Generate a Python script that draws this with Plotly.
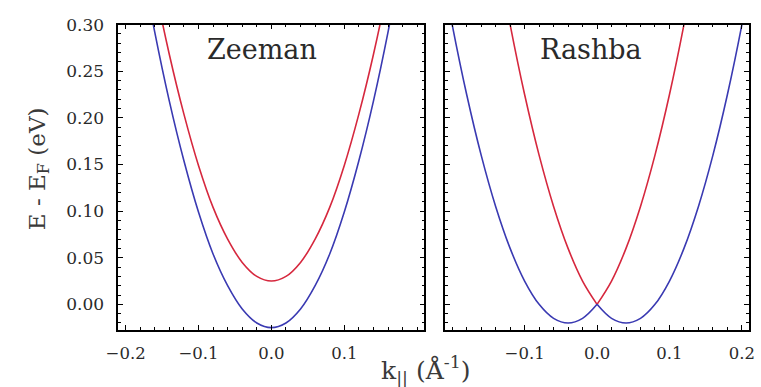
import plotly.graph_objects as go

# Band dispersions E(k) for a spin-split 2D electron gas, energies in eV, k in 1/Å
k_zeeman = [-0.18, -0.16, -0.14, -0.12, -0.10, -0.08, -0.06, -0.04, -0.02, 0.0,
            0.02, 0.04, 0.06, 0.08, 0.10, 0.12, 0.14, 0.16, 0.18]
zeeman_up = [0.427, 0.342, 0.268, 0.204, 0.149, 0.104, 0.070, 0.045, 0.030, 0.025,
             0.030, 0.045, 0.070, 0.104, 0.149, 0.204, 0.268, 0.342, 0.427]
zeeman_down = [0.377, 0.292, 0.218, 0.154, 0.099, 0.054, 0.020, -0.005, -0.020, -0.025,
               -0.020, -0.005, 0.020, 0.054, 0.099, 0.154, 0.218, 0.292, 0.377]

# Rashba branches: each half drawn separately so the crossing at k = 0 stays sharp
k_rashba_left = [-0.22, -0.20, -0.18, -0.16, -0.14, -0.12, -0.10, -0.08, -0.06, -0.04, -0.02, 0.0]
k_rashba_right = [0.0, 0.02, 0.04, 0.06, 0.08, 0.10, 0.12, 0.14, 0.16, 0.18, 0.20, 0.22]
rashba_outer_left = [0.385, 0.300, 0.225, 0.160, 0.105, 0.060, 0.025, 0.000, -0.015, -0.020, -0.015, 0.0]
rashba_outer_right = [0.0, -0.015, -0.020, -0.015, 0.000, 0.025, 0.060, 0.105, 0.160, 0.225, 0.300, 0.385]
rashba_inner_left = [0.825, 0.700, 0.585, 0.480, 0.385, 0.300, 0.225, 0.160, 0.105, 0.060, 0.025, 0.0]
rashba_inner_right = [0.0, 0.025, 0.060, 0.105, 0.160, 0.225, 0.300, 0.385, 0.480, 0.585, 0.700, 0.825]

panel_titles = ["Zeeman", "Rashba"]
y_ticks = [0.00, 0.05, 0.10, 0.15, 0.20, 0.25, 0.30]
x_ticks_left = [-0.2, -0.1, 0.0, 0.1]
x_ticks_right = [-0.1, 0.0, 0.1, 0.2]

RED = "rgb(214,40,62)"
BLUE = "rgb(58,58,178)"
SERIF = "DejaVu Serif"
TXT = "#2a2a2a"

fig = go.Figure()

def line(x, y, color, xa, ya):
    fig.add_trace(go.Scatter(x=x, y=y, mode="lines", xaxis=xa, yaxis=ya,
                             line=dict(color=color, width=1.6, shape="spline", smoothing=1.0),
                             showlegend=False, hoverinfo="skip"))

line(k_zeeman, zeeman_up, RED, "x", "y")
line(k_zeeman, zeeman_down, BLUE, "x", "y")
line(k_rashba_left, rashba_inner_left, RED, "x2", "y2")
line(k_rashba_right, rashba_inner_right, RED, "x2", "y2")
line(k_rashba_left, rashba_outer_left, BLUE, "x2", "y2")
line(k_rashba_right, rashba_outer_right, BLUE, "x2", "y2")

W, H = 761, 387
x_common = dict(range=[-0.21, 0.21], showline=True, linecolor="black", linewidth=1.5,
                mirror="allticks", ticks="inside", ticklen=5, tickcolor="black", tickwidth=1.3,
                showgrid=False, zeroline=False, ticklabelstandoff=8, ticklabeloverflow="allow",
                minor=dict(dtick=0.02, ticks="inside", ticklen=3, tickcolor="black", tickwidth=1),
                tickfont=dict(family=SERIF, size=16.5, color=TXT))
y_common = dict(range=[-0.027, 0.30], showline=True, linecolor="black", linewidth=1.5,
                mirror="allticks", ticks="inside", ticklen=5, tickcolor="black", tickwidth=1.3,
                showgrid=False, zeroline=False, ticklabelstandoff=9, ticklabeloverflow="allow",
                minor=dict(dtick=0.01, ticks="inside", ticklen=3, tickcolor="black", tickwidth=1),
                tickfont=dict(family=SERIF, size=17, color=TXT))

dom_y = [1 - 328 / H, 1 - 15 / H]

fig.update_layout(
    width=W, height=H, margin=dict(l=0, r=0, t=0, b=0),
    paper_bgcolor="white", plot_bgcolor="white",
    font=dict(family=SERIF),
    xaxis=dict(x_common, domain=[108 / W, 422 / W], anchor="y",
               tickvals=x_ticks_left, ticktext=[f"{v:.1f}".replace("-", "\u2212") for v in x_ticks_left]),
    yaxis=dict(y_common, domain=dom_y, anchor="x",
               tickvals=y_ticks, ticktext=[f"{v:.2f}" for v in y_ticks]),
    xaxis2=dict(x_common, domain=[443 / W, 755 / W], anchor="y2",
                tickvals=x_ticks_right, ticktext=[f"{v:.1f}".replace("-", "\u2212") for v in x_ticks_right]),
    yaxis2=dict(y_common, domain=dom_y, anchor="x2", showticklabels=False,
                tickvals=y_ticks),
)

# panel labels
for title, cx in zip(panel_titles, [255, 593]):
    fig.add_annotation(text=title, xref="paper", yref="paper",
                       x=cx / W, y=1 - 41 / H, xanchor="center", yanchor="middle",
                       showarrow=False, font=dict(family=SERIF, size=27, color=TXT))

fig.add_annotation(text="E - E<sub>F</sub> (eV)", xref="paper", yref="paper",
                   x=26 / W, y=1 - 163 / H, xanchor="center", yanchor="middle",
                   textangle=-90, showarrow=False,
                   font=dict(family=SERIF, size=23, color="#3a3a3a"))
fig.add_annotation(text="k<sub>||</sub> (Å<sup>-1</sup>)", xref="paper", yref="paper",
                   x=424 / W, y=1 - 370 / H, xanchor="center", yanchor="middle",
                   showarrow=False,
                   font=dict(family=SERIF, size=25, color="#3a3a3a"))

fig.write_html("out.html")
